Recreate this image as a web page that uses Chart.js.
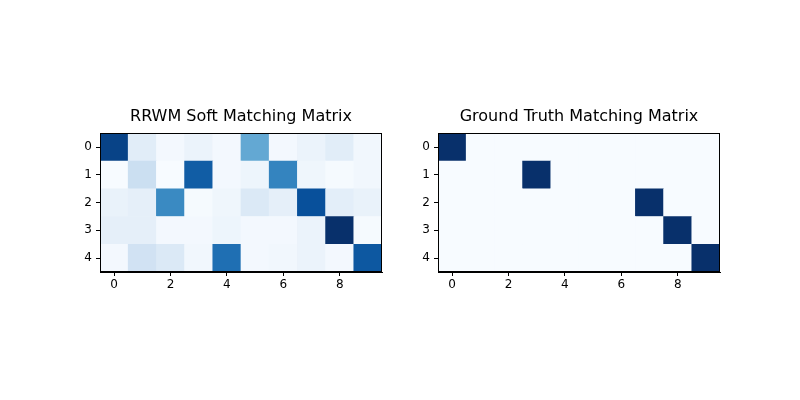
<!DOCTYPE html>
<html><head><meta charset="utf-8">
<script src="https://cdn.jsdelivr.net/npm/chart.js@4/dist/chart.umd.min.js"></script>
<style>body{margin:0;background:#fff}#w{position:relative;width:800px;height:400px}canvas{position:absolute;top:0}</style>
</head><body><div id="w"><canvas id="c1" style="left:0"></canvas><canvas id="c2" style="left:338px"></canvas></div>
<script>
const titles = ["RRWM Soft Matching Matrix", "Ground Truth Matching Matrix"];
const xTicks = [0, 2, 4, 6, 8];
const yTicks = [0, 1, 2, 3, 4];
const softMatrix = [
  [0.93, 0.12, 0.03, 0.07, 0.03, 0.53, 0.03, 0.07, 0.12, 0.04],
  [0.01, 0.23, 0.01, 0.83, 0.03, 0.06, 0.68, 0.05, 0.02, 0.04],
  [0.08, 0.1, 0.66, 0.02, 0.05, 0.15, 0.1, 0.88, 0.11, 0.08],
  [0.1, 0.1, 0.03, 0.03, 0.06, 0.03, 0.03, 0.07, 1.0, 0.02],
  [0.03, 0.2, 0.15, 0.04, 0.76, 0.03, 0.04, 0.07, 0.03, 0.85]
];
const truthMatrix = [
  [1,0,0,0,0,0,0,0,0,0],
  [0,0,0,1,0,0,0,0,0,0],
  [0,0,0,0,0,0,0,1,0,0],
  [0,0,0,0,0,0,0,0,1,0],
  [0,0,0,0,0,0,0,0,0,1]
];
const blues = ["#f7fbff","#deebf7","#c6dbef","#9ecae1","#6baed6","#4292c6","#2171b5","#08519c","#08306b"];
function hex(h){return [1,3,5].map(i=>parseInt(h.substr(i,2),16));}
function cmap(t){t=Math.max(0,Math.min(1,t));const p=t*8,i=Math.min(7,Math.floor(p)),f=p-i;
  const a=hex(blues[i]),b=hex(blues[i+1]);return `rgb(${a.map((v,k)=>Math.round(v+(b[k]-v)*f)).join(',')})`;}
const frame={id:'frame',afterDraw(c){const a=c.chartArea,x=c.ctx;x.save();x.strokeStyle='#000';x.lineWidth=1;
  x.strokeRect(Math.round(a.left)+0.5,Math.round(a.top)+0.5,Math.round(a.right-a.left)-1,Math.round(a.bottom-a.top)-1);x.restore();}};
function make(id, m, title){
  let mn=Infinity,mx=-Infinity;m.flat().forEach(v=>{mn=Math.min(mn,v);mx=Math.max(mx,v);});
  const data=[],colors=[];
  m.forEach((row,i)=>row.forEach((v,j)=>{data.push({x:j,y:[i-0.5,i+0.5]});colors.push(cmap((v-mn)/(mx-mn)));}));
  const tick={color:'#000',font:{family:'DejaVu Sans',size:12}};
  const grid={display:true,offset:false,drawOnChartArea:false,tickLength:4,color:'#000',tickColor:'#000'};
  new Chart(document.getElementById(id),{
    type:'bar',
    data:{datasets:[{data,backgroundColor:colors,barPercentage:1,categoryPercentage:1,borderWidth:0,borderSkipped:false,grouped:false}]},
    options:{responsive:false,animation:false,devicePixelRatio:1,
      layout:{padding:{top:107,right:18,bottom:0,left:0}},
      plugins:{legend:{display:false},tooltip:{enabled:false},
        title:{display:true,fullSize:false,text:title,color:'#000',font:{family:'DejaVu Sans',size:16,weight:'normal'},padding:{top:0,bottom:7}}},
      scales:{
        x:{type:'linear',min:-0.5,max:9.5,offset:false,grid,border:{color:'#000',width:1},ticks:{...tick,padding:2},
           afterBuildTicks:s=>{s.ticks=xTicks.map(v=>({value:v}));},afterFit:s=>{s.height=128;}},
        y:{type:'linear',reverse:true,min:-0.5,max:4.5,grid,border:{color:'#000',width:1},ticks:{...tick,padding:4},
           afterBuildTicks:s=>{s.ticks=yTicks.map(v=>({value:v}));},afterFit:s=>{s.width=100;}}
      }},
    plugins:[frame]
  });
}
[['c1',softMatrix],['c2',truthMatrix]].forEach(([id,m],k)=>{const c=document.getElementById(id);c.width=400;c.height=400;make(id,m,titles[k]);});
</script></body></html>
